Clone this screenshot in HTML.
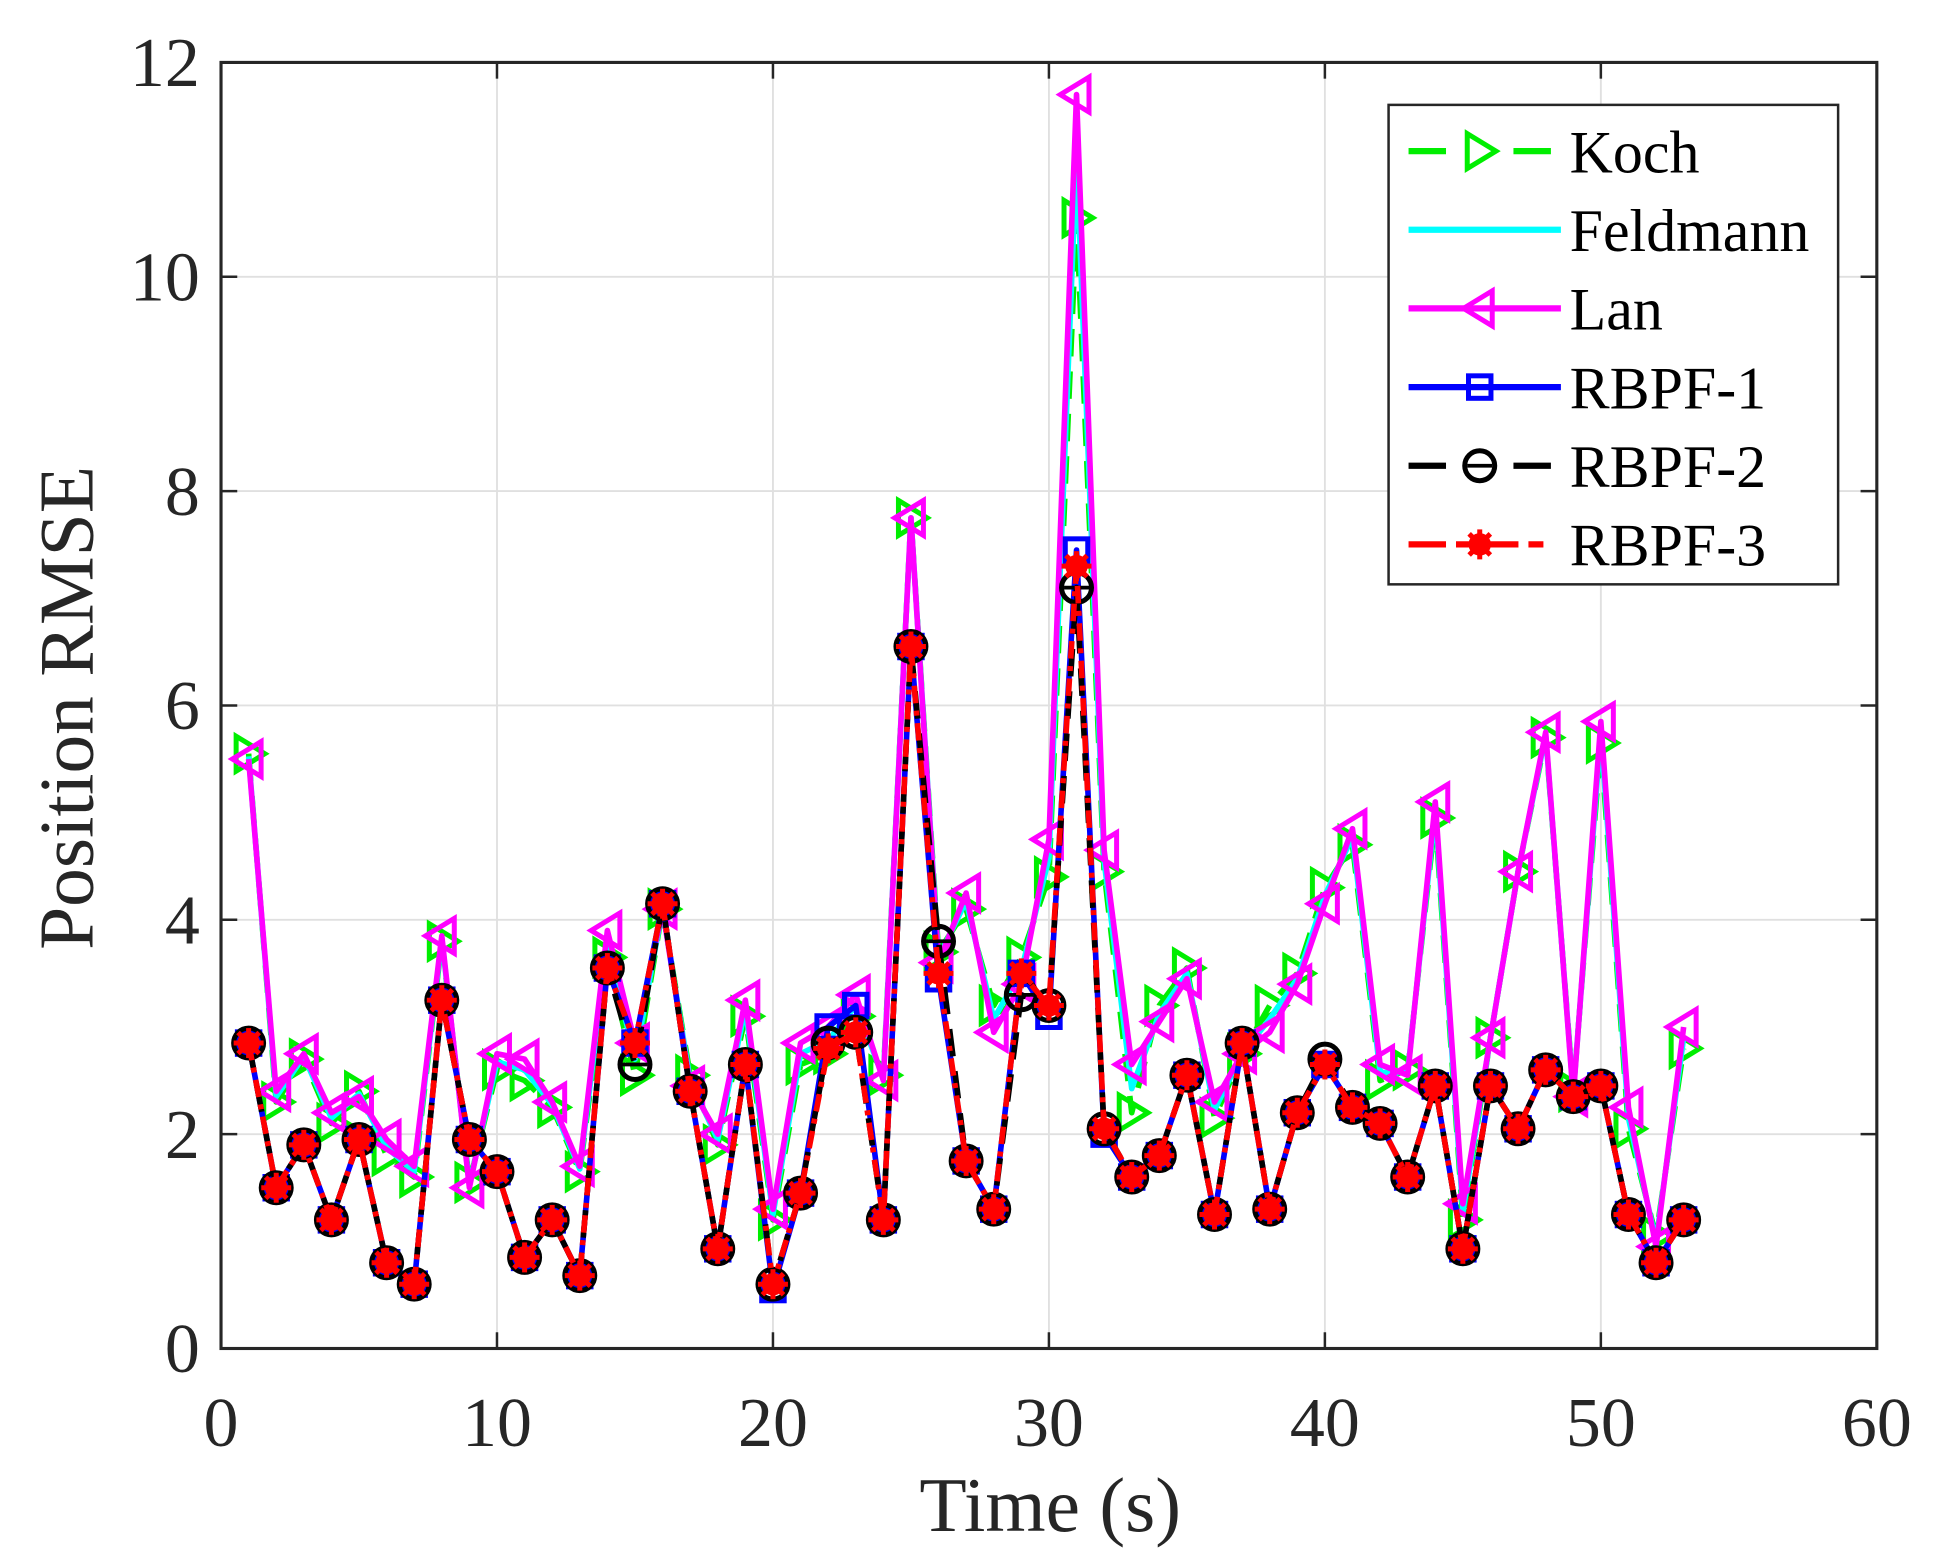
<!DOCTYPE html>
<html><head><meta charset="utf-8"><style>html,body{margin:0;padding:0;background:#fff}svg{display:block}</style></head>
<body>
<svg id="s" width="1948" height="1567" viewBox="0 0 1560 1255" preserveAspectRatio="none" xmlns="http://www.w3.org/2000/svg" font-family="'Liberation Serif', serif"></svg>
<script>
const S=document.getElementById('s');let h='';
const X0=177,X1=1503,Y0=1080,Y1=50;
const px=t=>X0+(X1-X0)*t/60, py=v=>Y0-(Y0-Y1)*v/12;
for(let i=1;i<6;i++)h+=`<line x1="${px(i*10)}" y1="${Y1}" x2="${px(i*10)}" y2="${Y0}" stroke="#e0e0e0" stroke-width="1.5"/>`;
for(let i=1;i<6;i++)h+=`<line x1="${X0}" y1="${py(i*2)}" x2="${X1}" y2="${py(i*2)}" stroke="#e0e0e0" stroke-width="1.5"/>`;
const K=[5.55,2.3,2.7,2.1,2.4,1.8,1.6,3.8,1.55,2.6,2.5,2.25,1.65,3.65,2.55,4.1,2.55,1.9,3.1,1.2,2.65,2.75,3.1,2.55,7.75,3.7,4.1,3.2,3.65,4.4,10.55,4.45,2.2,3.2,3.55,2.15,2.75,3.2,3.5,4.3,4.7,2.5,2.6,4.95,1.2,2.9,4.45,5.7,2.4,5.65,2.05,1.05,2.8];
const L=[5.5,2.4,2.75,2.2,2.35,1.95,1.7,3.85,1.5,2.75,2.7,2.3,1.7,3.9,2.85,4.1,2.45,2.0,3.25,1.3,2.85,3.0,3.3,2.5,7.75,3.6,4.25,2.95,3.4,4.75,11.7,4.65,2.65,3.05,3.45,2.3,2.75,2.95,3.4,4.15,4.85,2.65,2.55,5.1,1.35,2.9,4.45,5.75,2.35,5.85,2.25,0.95,3.0];
const F=K.map((v,i)=>(v+L[i])/2);
const R3=[2.85,1.5,1.9,1.2,1.95,0.8,0.6,3.25,1.95,1.65,0.85,1.2,0.68,3.55,2.85,4.15,2.4,0.93,2.65,0.6,1.45,2.8,2.95,1.2,6.55,3.5,1.75,1.3,3.5,3.2,7.3,2.05,1.6,1.8,2.55,1.25,2.85,1.3,2.2,2.65,2.25,2.1,1.6,2.45,0.93,2.45,2.05,2.6,2.35,2.45,1.25,0.8,1.2];
const R2=R3.slice();R2[14]=2.65;R2[21]=2.85;R2[25]=3.8;R2[28]=3.3;R2[30]=7.1;R2[39]=2.7;
const R1=R3.slice();R1[19]=0.55;R1[21]=3.0;R1[22]=3.2;R1[25]=3.45;R1[29]=3.1;R1[30]=7.45;R1[31]=2.0;
function line(d,c,dash){return `<polyline fill="none" stroke="${c}" stroke-width="4.5" ${dash?`stroke-dasharray="${dash}"`:''} stroke-linejoin="round" points="${d.map((v,i)=>px(i+1)+','+py(v)).join(' ')}"/>`;}
function triR(x,y,c){return `<polygon points="${x-10},${y-14} ${x+13},${y} ${x-10},${y+14}" fill="none" stroke="${c}" stroke-width="4"/>`;}
function triL(x,y,c){return `<polygon points="${x+10},${y-14} ${x-13},${y} ${x+10},${y+14}" fill="none" stroke="${c}" stroke-width="4"/>`;}
function sq(x,y){return `<rect x="${x-9}" y="${y-9}" width="18" height="18" fill="none" stroke="#0000ff" stroke-width="4"/>`;}
function circ(x,y){return `<circle cx="${x}" cy="${y}" r="12" fill="none" stroke="#000" stroke-width="4"/><line x1="${x-10}" y1="${y}" x2="${x+10}" y2="${y}" stroke="#000" stroke-width="3"/>`;}
function star(x,y){let s=`<circle cx="${x}" cy="${y}" r="9" fill="#f00"/>`;for(let a=0;a<4;a++){const r=12,t=a*Math.PI/4;s+=`<line x1="${x-r*Math.cos(t)}" y1="${y-r*Math.sin(t)}" x2="${x+r*Math.cos(t)}" y2="${y+r*Math.sin(t)}" stroke="#f00" stroke-width="4"/>`;}return s;}
function marks(d,f,c){return d.map((v,i)=>f(px(i+1),py(v),c)).join('');}
h+=line(K,'#00ee00','22 12')+marks(K,triR,'#00ee00');
h+=line(F,'#00ffff');
h+=line(L,'#ff00ff')+marks(L,triL,'#ff00ff');
h+=line(R1,'#0000ff')+marks(R1,sq);
h+=line(R2,'#000','22 12')+marks(R2,circ);
h+=line(R3,'#ff0000','14 6 4 6')+marks(R3,star);
h+=`<rect x="${X0}" y="${Y1}" width="${X1-X0}" height="${Y0-Y1}" fill="none" stroke="#262626" stroke-width="2.5"/>`;
for(let i=0;i<=6;i++){const x=px(i*10);h+=`<line x1="${x}" y1="${Y0}" x2="${x}" y2="${Y0-13}" stroke="#262626" stroke-width="2"/><line x1="${x}" y1="${Y1}" x2="${x}" y2="${Y1+13}" stroke="#262626" stroke-width="2"/><text x="${x}" y="1158" font-size="56" text-anchor="middle" fill="#262626">${i*10}</text>`;}
for(let i=0;i<=6;i++){const y=py(i*2);h+=`<line x1="${X0}" y1="${y}" x2="${X0+13}" y2="${y}" stroke="#262626" stroke-width="2"/><line x1="${X1}" y1="${y}" x2="${X1-13}" y2="${y}" stroke="#262626" stroke-width="2"/><text x="160" y="${y+19}" font-size="56" text-anchor="end" fill="#262626">${i*2}</text>`;}
h+=`<text x="841" y="1226" font-size="62" text-anchor="middle" fill="#262626">Time (s)</text>`;
h+=`<text transform="translate(74,567) rotate(-90)" font-size="62" text-anchor="middle" fill="#262626">Position RMSE</text>`;
h+=`<rect x="1112" y="84" width="360" height="384" fill="#fff" stroke="#262626" stroke-width="2"/>`;
const names=['Koch','Feldmann','Lan','RBPF-1','RBPF-2','RBPF-3'];
const ys=[121,184,247,310,373,436];
h+=`<line x1="1128" y1="${ys[0]}" x2="1244" y2="${ys[0]}" stroke="#00ee00" stroke-width="5" stroke-dasharray="30 54"/>`+triR(1185,ys[0],'#00ee00');
h+=`<line x1="1128" y1="${ys[1]}" x2="1250" y2="${ys[1]}" stroke="#00ffff" stroke-width="5"/>`;
h+=`<line x1="1128" y1="${ys[2]}" x2="1250" y2="${ys[2]}" stroke="#ff00ff" stroke-width="5"/>`+triL(1185,ys[2],'#ff00ff');
h+=`<line x1="1128" y1="${ys[3]}" x2="1250" y2="${ys[3]}" stroke="#0000ff" stroke-width="5"/>`+sq(1185,ys[3]);
h+=`<line x1="1128" y1="${ys[4]}" x2="1244" y2="${ys[4]}" stroke="#000" stroke-width="5" stroke-dasharray="30 54"/>`+circ(1185,ys[4]);
h+=`<line x1="1128" y1="${ys[5]}" x2="1244" y2="${ys[5]}" stroke="#f00" stroke-width="5" stroke-dasharray="30 8 12 8"/>`+star(1185,ys[5]);
names.forEach((n,i)=>h+=`<text x="1257" y="${ys[i]+17}" font-size="48" fill="#000">${n}</text>`);
S.innerHTML=h;
</script>
</body></html>
